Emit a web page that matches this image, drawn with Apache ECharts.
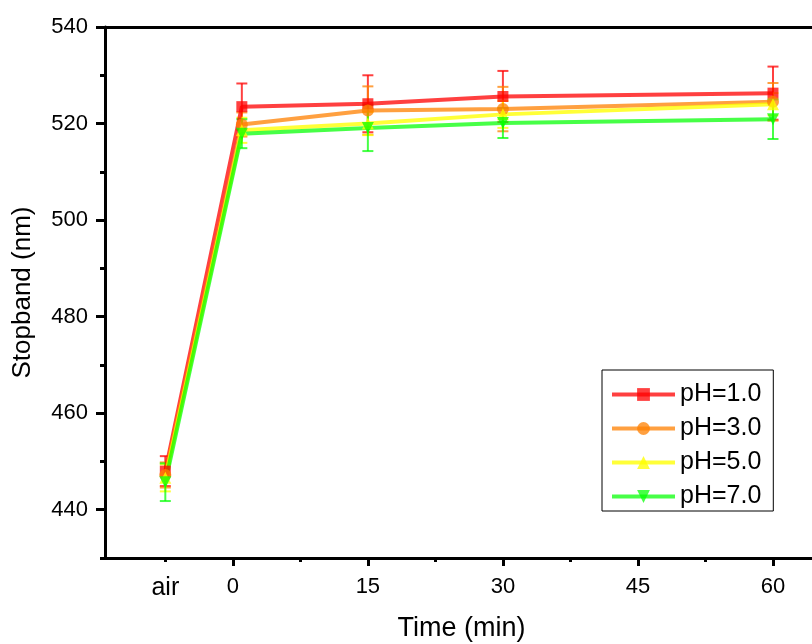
<!DOCTYPE html>
<html>
<head>
<meta charset="utf-8">
<script src="https://cdn.jsdelivr.net/npm/echarts@6/dist/echarts.min.js"></script>
<style>
html,body{margin:0;padding:0;background:#fff;}
#chart{width:812px;height:644px;}
</style>
</head>
<body>
<div id="chart"></div>
<script>
// ---- data ----
const timeX = [-7.5, 1, 15, 30, 60];           // -7.5 == "air"
const seriesNames = ['pH=1.0', 'pH=3.0', 'pH=5.0', 'pH=7.0'];
const ph1 = [448.0, 523.5, 524.1, 525.6, 526.3];
const ph1Err = [3.1, 4.8, 5.9, 5.3, 5.5];
const ph3 = [447.2, 519.8, 522.7, 523.0, 524.5];
const ph3Err = [2.6, 2.5, 5.0, 4.6, 3.9];
const ph5 = [446.6, 518.6, 520.0, 521.9, 524.0];
const ph5Err = [2.8, 2.6, 2.4, 2.8, 2.3];
const ph7 = [445.7, 517.9, 519.1, 520.1, 520.9];
const ph7Err = [3.9, 3.0, 4.8, 3.1, 4.1];
const xMajorTicks = [0, 15, 30, 45, 60];
const xMinorTicks = [-7.5, 7.5, 22.5, 37.5, 52.5];
const xLabels = [-7.5, 0, 15, 30, 45, 60];
const yMajorTicks = [440, 460, 480, 500, 520, 540];
const yMinorTicks = [430, 450, 470, 490, 510, 530];

const colors = ['rgba(255,0,0,0.75)', 'rgba(255,128,0,0.75)', 'rgba(255,255,0,0.78)', 'rgba(0,255,0,0.72)'];
const symbols = ['rect', 'circle', 'triangle', 'triangle'];
const rotates = [0, 0, 0, 180];
const values = [ph1, ph3, ph5, ph7];
const errs = [ph1Err, ph3Err, ph5Err, ph7Err];

const FONT = "'Liberation Sans', Arial, sans-serif";
const chart = echarts.init(document.getElementById('chart'), null, {renderer: 'canvas'});

function errRender(color) {
  return function (params, api) {
    const x = api.value(0), lo = api.value(1), hi = api.value(2);
    const pLo = api.coord([x, lo]);
    const pHi = api.coord([x, hi]);
    const hw = 5.5;
    const st = {stroke: color, lineWidth: 2};
    return {
      type: 'group',
      children: [
        {type: 'line', shape: {x1: pLo[0], y1: pLo[1], x2: pHi[0], y2: pHi[1]}, style: st},
        {type: 'line', shape: {x1: pLo[0] - hw, y1: pLo[1], x2: pLo[0] + hw, y2: pLo[1]}, style: st},
        {type: 'line', shape: {x1: pHi[0] - hw, y1: pHi[1], x2: pHi[0] + hw, y2: pHi[1]}, style: st}
      ]
    };
  };
}

const series = [];
values.forEach((vals, k) => {
  series.push({
    type: 'custom',
    name: 'err ' + seriesNames[k],
    xAxisIndex: 0, yAxisIndex: 0,
    renderItem: errRender(colors[k]),
    encode: {x: 0, y: [1, 2]},
    data: timeX.map((x, i) => [x, vals[i] - errs[k][i], vals[i] + errs[k][i]]),
    silent: true,
    clip: false,
    z: 3
  });
  series.push({
    type: 'line',
    name: seriesNames[k],
    xAxisIndex: 0, yAxisIndex: 0,
    data: timeX.map((x, i) => [x, vals[i]]),
    symbol: symbols[k],
    symbolSize: k === 0 ? 11 : 12,
    symbolRotate: rotates[k],
    showAllSymbol: true,
    lineStyle: {color: colors[k], width: 4},
    itemStyle: {color: colors[k]},
    z: 4
  });
});

const option = {
  animation: false,
  backgroundColor: '#fff',
  grid: {left: 105, width: 713, top: 27, bottom: 86, containLabel: false, outerBoundsMode: 'none'},
  xAxis: [
    {
      type: 'value', position: 'bottom', min: -14.2, max: 65,
      axisLine: {show: true, onZero: false, lineStyle: {color: '#000', width: 3}},
      axisTick: {show: true, customValues: xMajorTicks, length: 8, inside: false, lineStyle: {color: '#000', width: 3}},
      axisLabel: {
        show: true, customValues: xLabels, margin: 18, color: '#000', fontSize: 22, fontFamily: FONT,
        formatter: v => (v === -7.5 ? '{a|air}' : String(v)),
        rich: {a: {fontSize: 25, fontFamily: FONT, color: '#000'}}
      },
      splitLine: {show: false},
      name: 'Time (min)', nameLocation: 'middle', nameGap: 57,
      nameTextStyle: {fontSize: 27, color: '#000', fontFamily: FONT}
    },
    {
      type: 'value', position: 'bottom', min: -14.2, max: 65,
      axisLine: {show: false, onZero: false},
      axisTick: {show: true, customValues: xMinorTicks, length: 4, lineStyle: {color: '#000', width: 3}},
      axisLabel: {show: false},
      splitLine: {show: false}
    },
    {
      type: 'value', position: 'top', min: -14.2, max: 65,
      axisLine: {show: true, onZero: false, lineStyle: {color: '#000', width: 3}},
      axisTick: {show: false}, axisLabel: {show: false}, splitLine: {show: false}
    }
  ],
  yAxis: [
    {
      type: 'value', position: 'left', min: 430, max: 540,
      axisLine: {show: true, onZero: false, lineStyle: {color: '#000', width: 3}},
      axisTick: {show: true, customValues: yMajorTicks, length: 9, lineStyle: {color: '#000', width: 3}},
      axisLabel: {show: true, customValues: yMajorTicks, margin: 17, color: '#000', fontSize: 22, fontFamily: FONT},
      splitLine: {show: false},
      name: 'Stopband (nm)', nameLocation: 'middle', nameGap: 69, nameRotate: 90,
      nameTextStyle: {fontSize: 26, color: '#000', fontFamily: FONT}
    },
    {
      type: 'value', position: 'left', min: 430, max: 540,
      axisLine: {show: false, onZero: false},
      axisTick: {show: true, customValues: yMinorTicks, length: 5, lineStyle: {color: '#000', width: 3}},
      axisLabel: {show: false},
      splitLine: {show: false}
    }
  ],
  legend: {
    orient: 'vertical',
    left: 602, top: 370,
    data: seriesNames,
    itemWidth: 63, itemHeight: 16, itemGap: 9,
    padding: [12, 12, 2, 8],
    borderColor: '#000', borderWidth: 1,
    backgroundColor: '#fff',
    lineStyle: {width: 4},
    textStyle: {fontSize: 25, color: '#000', fontFamily: FONT},
    selectedMode: false
  },
  series: series
};
chart.setOption(option);
</script>
</body>
</html>
